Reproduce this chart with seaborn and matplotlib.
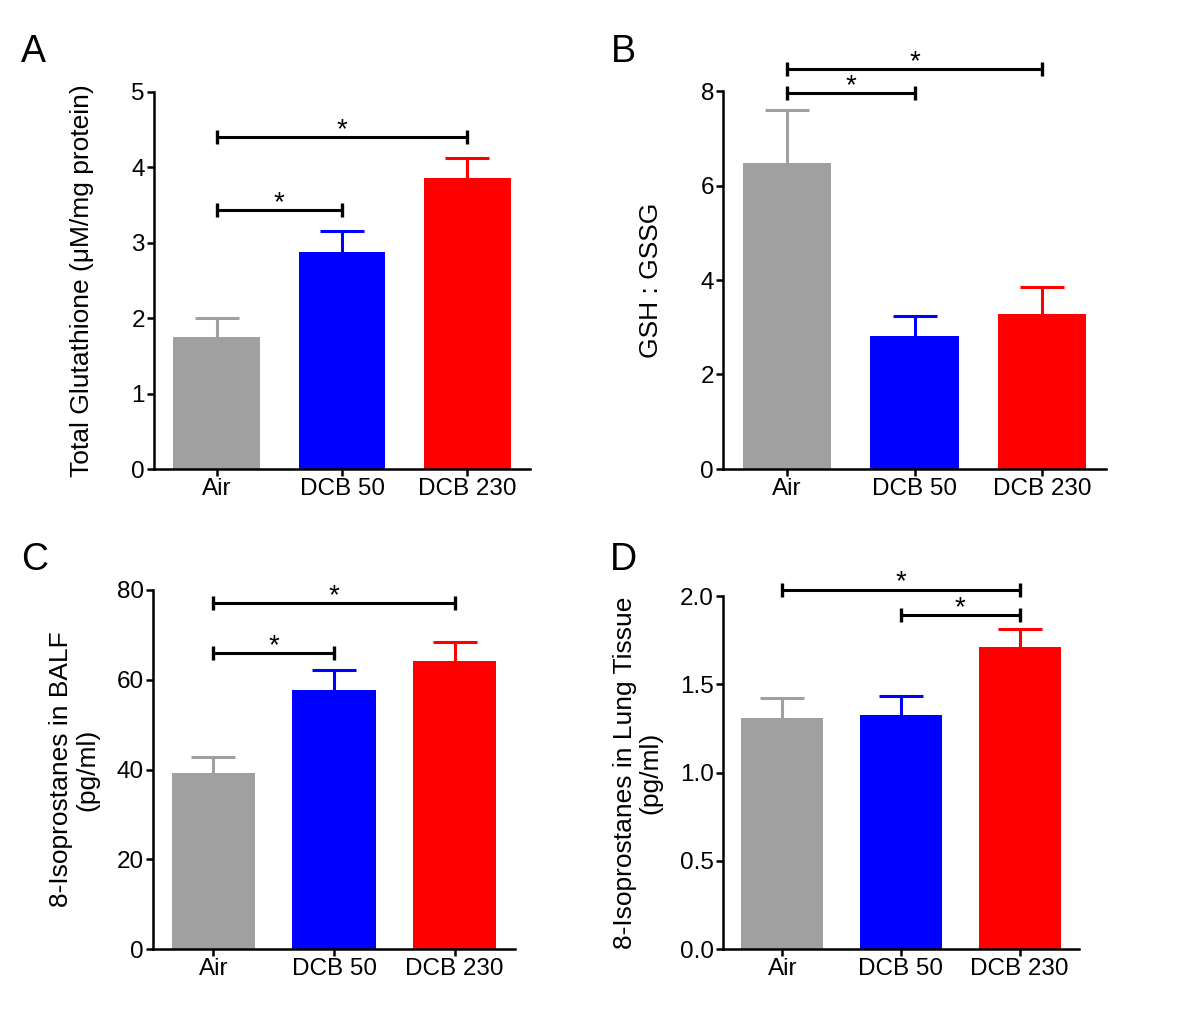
import matplotlib
matplotlib.use("Agg")
import pandas as pd
import matplotlib.pyplot as plt
import seaborn as sns
from matplotlib.ticker import FormatStrFormatter

# Groups and colours shared by all four panels
GROUPS = ["Air", "DCB 50", "DCB 230"]
COLORS = ["#a0a0a0", "#0000ff", "#ff0000"]

# A: total glutathione
glut_mean = [1.75, 2.88, 3.86]
glut_sem = [0.25, 0.28, 0.26]
glut_sig = [(0, 1, 3.43), (0, 2, 4.40)]

# B: GSH:GSSG ratio
ratio_mean = [6.48, 2.81, 3.27]
ratio_sem = [1.11, 0.43, 0.59]
ratio_sig = [(0, 1, 7.96), (0, 2, 8.46)]

# C: 8-isoprostanes in BALF
balf_mean = [39.3, 57.8, 64.1]
balf_sem = [3.5, 4.3, 4.3]
balf_sig = [(0, 1, 65.9), (0, 2, 77.0)]

# D: 8-isoprostanes in lung tissue
lung_mean = [1.31, 1.324, 1.713]
lung_sem = [0.11, 0.11, 0.10]
lung_sig = [(0, 2, 2.036), (1, 2, 1.89)]

W, H = 1200, 1021


def px_rect(left, right, top, bottom):
    """Axes rectangle in figure fractions from pixel edges."""
    return [left / W, 1 - bottom / H, (right - left) / W, (bottom - top) / H]


def draw_panel(ax, means, sems, ymax, ystep, ylabel, sigs, label_x, fmt=None):
    df = pd.DataFrame({"group": GROUPS, "value": means})
    sns.barplot(data=df, x="group", y="value", hue="group", palette=COLORS,
                saturation=1, width=0.69, linewidth=0, errorbar=None,
                legend=False, zorder=2, ax=ax)

    # upper-only error bars: stem from the bar top plus a cap at the end
    for i, (m, s, c) in enumerate(zip(means, sems, COLORS)):
        ax.errorbar(i, m, yerr=[[0], [s]], fmt="none", ecolor=c,
                    elinewidth=2.2, capsize=0, zorder=1)
        ax.plot(i, m + s, marker="_", markersize=31, mew=2.2, color=c,
                zorder=1)

    # significance brackets
    for x1, x2, y in sigs:
        ax.plot([x1, x2], [y, y], color="black", lw=2.2, marker="|",
                markersize=10, mew=2.4, clip_on=False, zorder=3)
        ax.text((x1 + x2) / 2, y, "*", ha="center", va="baseline",
                fontsize=20, clip_on=False)

    ax.set_xlim(-0.5, 2.5)
    ax.set_ylim(0, ymax)
    ax.set_yticks([ystep * k for k in range(int(round(ymax / ystep)) + 1)])
    if fmt:
        ax.yaxis.set_major_formatter(FormatStrFormatter(fmt))
    ax.set_xlabel("")
    ax.set_ylabel(ylabel, fontsize=19, linespacing=1.1)
    ax.yaxis.set_label_coords(label_x, 0.5)
    ax.tick_params(direction="out", length=5, width=1.8, labelsize=17.5,
                   pad=1.5, colors="black")
    sns.despine(ax=ax)


sns.set_style("ticks")
plt.rcParams["font.family"] = ["Liberation Sans", "DejaVu Sans"]
plt.rcParams["axes.linewidth"] = 1.8
plt.rcParams["axes.edgecolor"] = "black"
plt.rcParams["axes.labelcolor"] = "black"
plt.rcParams["text.color"] = "black"

fig = plt.figure(figsize=(W / 100, H / 100), dpi=100)

ax_a = fig.add_axes(px_rect(154, 530, 92, 469))
ax_b = fig.add_axes(px_rect(723, 1106, 91, 469))
ax_c = fig.add_axes(px_rect(153, 515, 590, 949))
ax_d = fig.add_axes(px_rect(723, 1079, 596, 949))

draw_panel(ax_a, glut_mean, glut_sem, 5, 1,
           "Total Glutathione (\u03bcM/mg protein)", glut_sig, -0.160)
draw_panel(ax_b, ratio_mean, ratio_sem, 8, 2,
           "GSH : GSSG", ratio_sig, -0.157)
draw_panel(ax_c, balf_mean, balf_sem, 80, 20,
           "8-Isoprostanes in BALF\n(pg/ml)", balf_sig, -0.149)
draw_panel(ax_d, lung_mean, lung_sem, 2.0, 0.5,
           "8-Isoprostanes in Lung Tissue\n(pg/ml)", lung_sig, -0.169, fmt="%.1f")

# panel letters
for letter, x, y in [("A", 33, 62), ("B", 623, 62), ("C", 35, 570), ("D", 623, 570)]:
    fig.text(x / W, 1 - y / H, letter, fontsize=27, ha="center", va="baseline")

fig.savefig("out.png", dpi=100)
